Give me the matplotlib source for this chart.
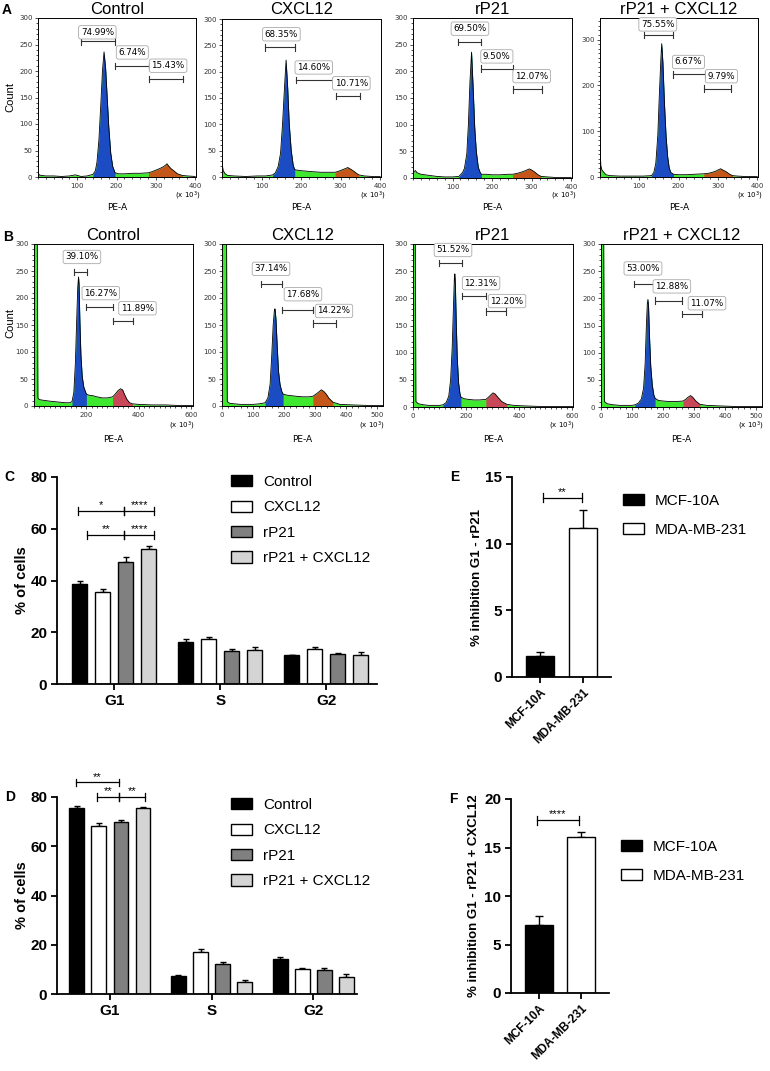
import matplotlib
matplotlib.use("Agg")
import matplotlib.pyplot as plt
import numpy as np
from matplotlib.patches import Patch
from matplotlib.ticker import MultipleLocator

plt.rcParams['font.family'] = ['Liberation Sans', 'DejaVu Sans']

W, H = 770, 1071

# ---------------- flow histograms (PE-A, x 10^3) ----------------
hist_titles = ["Control", "CXCL12", "rP21", "rP21 + CXCL12"]

a_x = [
    [0, 3, 8, 20, 40, 60, 80, 95, 100, 110, 125, 140, 146, 150, 155, 160, 164, 168, 172, 176, 180, 185, 190, 196,
     205, 220, 240, 260, 281, 290, 300, 310, 318, 324, 328, 332, 338, 345, 355, 367, 380, 400],
    [0, 3, 8, 14, 30, 60, 90, 110, 120, 128, 135, 142, 148, 153, 158, 162, 166, 170, 175, 180, 184, 190, 200, 215,
     230, 250, 270, 286, 295, 305, 312, 318, 325, 333, 340, 346, 360, 380, 400],
    [0, 3, 6, 10, 20, 40, 60, 80, 100, 116, 125, 130, 136, 140, 144, 148, 152, 156, 160, 165, 170, 173, 185, 200,
     220, 240, 252, 265, 278, 288, 294, 300, 308, 316, 324, 340, 360, 400],
    [0, 2, 5, 10, 15, 25, 50, 80, 110, 131, 137, 142, 147, 151, 155, 157, 160, 164, 168, 172, 176, 180, 187, 200,
     220, 240, 264, 275, 285, 295, 302, 307, 313, 320, 330, 337, 350, 370, 400],
]
a_y = [
    [9, 4, 3, 2, 2, 1, 2, 4, 3, 1, 2, 5, 12, 28, 70, 140, 200, 236, 205, 150, 95, 45, 20, 8,
     6, 6, 7, 7, 8, 10, 13, 16, 19, 22, 25, 21, 16, 12, 6, 3, 2, 1],
    [27, 12, 6, 3, 2, 1, 2, 2, 3, 4, 8, 20, 45, 100, 170, 222, 170, 100, 50, 22, 14, 13, 12, 11,
     10, 9, 9, 9, 11, 14, 16, 18, 15, 11, 7, 4, 2, 1, 1],
    [6, 12, 14, 10, 7, 5, 3, 2, 2, 3, 10, 18, 45, 100, 180, 236, 170, 95, 50, 20, 10, 7, 7, 6,
     6, 7, 7, 9, 12, 15, 17, 15, 11, 6, 3, 2, 1, 1],
    [70, 25, 15, 10, 5, 3, 2, 2, 2, 3, 10, 30, 90, 180, 260, 291, 250, 160, 90, 45, 20, 10, 6, 5,
     5, 6, 7, 8, 10, 13, 16, 18, 15, 12, 6, 3, 2, 1, 1],
]
a_g1 = [(140, 196), (128, 184), (116, 173), (131, 187)]
a_g2 = [(281, 367), (286, 346), (252, 324), (264, 337)]
a_pct = [["74.99%", "6.74%", "15.43%"], ["68.35%", "14.60%", "10.71%"],
         ["69.50%", "9.50%", "12.07%"], ["75.55%", "6.67%", "9.79%"]]
a_gate_x = [[(110, 195), (196, 282), (282, 368)], [(109, 185), (186, 280), (287, 349)],
            [(114, 173), (173, 254), (254, 325)], [(111, 187), (187, 266), (264, 334)]]
a_gate_y = [[256, 210, 185], [246, 184, 154], [255, 205, 166], [310, 224, 193]]
a_lab = [[(151, 273), (240, 235), (331, 210)], [(150, 271), (232, 208), (327, 178)],
         [(144, 280), (212, 228), (300, 191)], [(147, 333), (225, 251), (309, 220)]]

b_x = [
    [0, 12, 15, 20, 30, 45, 60, 80, 100, 120, 135, 145, 152, 158, 163, 167, 170, 172, 175, 179, 184, 190, 200,
     210, 225, 240, 260, 280, 300, 310, 320, 330, 338, 345, 355, 365, 376, 400, 450, 500, 550, 607],
    [0, 14, 17, 25, 40, 60, 80, 100, 120, 139, 148, 155, 160, 165, 169, 171, 174, 178, 182, 187, 192, 197,
     210, 225, 240, 260, 280, 293, 303, 312, 320, 328, 336, 345, 358, 380, 420, 470, 519],
    [0, 8, 11, 20, 40, 60, 80, 100, 113, 125, 135, 142, 148, 153, 156, 158, 160, 163, 167, 172, 177, 181,
     195, 210, 230, 250, 275, 285, 295, 302, 310, 320, 335, 354, 380, 420, 480, 540, 604],
    [0, 8, 11, 20, 40, 60, 80, 100, 109, 120, 130, 137, 142, 146, 149, 151, 153, 156, 160, 165, 170, 174,
     185, 200, 220, 240, 264, 272, 280, 288, 295, 305, 318, 340, 380, 430, 480, 518],
]
b_y = [
    [400, 400, 15, 12, 11, 10, 9, 8, 7, 6, 6, 8, 25, 80, 160, 220, 239, 225, 160, 95, 55, 35, 22,
     20, 19, 17, 15, 15, 17, 22, 28, 32, 30, 22, 12, 6, 4, 3, 2, 2, 1, 1],
    [400, 400, 8, 5, 4, 3, 3, 3, 4, 6, 15, 40, 90, 150, 178, 180, 160, 110, 65, 40, 28, 22,
     20, 19, 18, 17, 17, 18, 22, 26, 30, 27, 22, 14, 7, 3, 2, 1, 1],
    [400, 400, 10, 6, 4, 3, 3, 3, 4, 8, 20, 50, 110, 190, 235, 245, 225, 160, 90, 45, 25, 18,
     15, 14, 13, 13, 14, 18, 23, 26, 24, 18, 10, 5, 3, 2, 1, 1, 1],
    [400, 400, 10, 6, 4, 3, 3, 3, 4, 7, 15, 35, 80, 150, 190, 198, 185, 130, 75, 40, 22, 16,
     12, 11, 10, 10, 11, 14, 18, 21, 18, 11, 5, 3, 2, 1, 1, 1],
]
b_g1 = [(145, 200), (139, 197), (113, 181), (109, 174)]
b_g2 = [(300, 376), (293, 358), (275, 354), (264, 318)]
b_pct = [["39.10%", "16.27%", "11.89%"], ["37.14%", "17.68%", "14.22%"],
         ["51.52%", "12.31%", "12.20%"], ["53.00%", "12.88%", "11.07%"]]
b_gate_x = [[(153, 202), (199, 300), (300, 379)], [(126, 194), (194, 294), (294, 368)],
            [(98, 185), (185, 275), (275, 351)], [(106, 174), (174, 261), (261, 325)]]
b_gate_y = [[248, 183, 157], [226, 178, 153], [265, 204, 176], [226, 196, 171]]
b_lab = [[(183, 276), (255, 209), (395, 181)], [(158, 254), (261, 207), (361, 176)],
         [(151, 289), (257, 228), (355, 195)], [(135, 255), (228, 222), (341, 191)]]

# ---------------- bar charts ----------------
phases = ["G1", "S", "G2"]
treatments = ["Control", "CXCL12", "rP21", "rP21 + CXCL12"]
c_mean = [[38.8, 16.3, 11.1], [35.6, 17.2, 13.4], [47.0, 12.7, 11.6], [52.2, 13.1, 11.2]]
c_err = [[1.0, 0.9, 0.3], [1.2, 1.1, 1.0], [2.1, 0.9, 0.3], [1.0, 1.2, 1.3]]
c_sig = [(-0.34, 0.094, 66.8, "*"), (0.094, 0.377, 66.8, "****"),
         (-0.255, 0.094, 57.5, "**"), (0.094, 0.377, 57.5, "****")]
d_mean = [[75.5, 7.2, 14.3], [68.2, 17.1, 10.1], [69.7, 12.3, 9.6], [75.4, 4.7, 6.9]]
d_err = [[0.7, 0.4, 0.6], [1.1, 1.2, 0.3], [1.1, 0.7, 1.1], [0.4, 0.8, 1.2]]
d_sig = [(-0.335, 0.089, 85.9, "**"), (-0.128, 0.089, 80.0, "**"), (0.089, 0.345, 80.0, "**")]

lines = ["MCF-10A", "MDA-MB-231"]
e_mean = [1.6, 11.2]
e_err = [0.25, 1.3]
e_sig = (0.07, 0.98, 13.45, "**")
f_mean = [7.06, 16.08]
f_err = [0.9, 0.52]
f_sig = (-0.05, 0.95, 17.8, "****")

GREEN = "#3ee82e"
BLUE = "#1b4cc4"
ORANGE = "#c4561a"
RED = "#c8485a"
treat_colors = ["black", "white", "#808080", "#d4d4d4"]
line_colors = ["black", "white"]


def px_axes(fig, l, t, r, b):
    return fig.add_axes([l / W, 1 - b / H, (r - l) / W, (b - t) / H])


def ftext(fig, x, y, s, **kw):
    fig.text(x / W, 1 - y / H, s, **kw)


def draw_hist(ax, x, y, g1, g2, c2, xmax, ymax, xticks, yticks, pcts, gx, gy, lab):
    x = np.array(x, dtype=float)
    y = np.array(y, dtype=float)
    ax.fill_between(x, y, color=GREEN, lw=0)
    m1 = (x >= g1[0]) & (x <= g1[1])
    ax.fill_between(x[m1], y[m1], color=BLUE, lw=0)
    m2 = (x >= g2[0]) & (x <= g2[1])
    ax.fill_between(x[m2], y[m2], color=c2, lw=0)
    ax.plot(x, y, color="black", lw=0.6)
    ax.set_xlim(0, xmax)
    ax.set_ylim(0, ymax)
    ax.set_xticks(xticks)
    ax.set_yticks(yticks)
    ax.xaxis.set_minor_locator(MultipleLocator(20))
    ax.yaxis.set_minor_locator(MultipleLocator(10))
    ax.tick_params(which="both", direction="out", labelsize=5, colors="#333333", width=0.6, pad=1.5)
    ax.tick_params(which="major", length=2.5)
    ax.tick_params(which="minor", length=1.3)
    for lb in ax.get_xticklabels() + ax.get_yticklabels():
        lb.set_family("DejaVu Sans")
    for sp in ax.spines.values():
        sp.set_linewidth(0.7)
    cap = ymax * 0.02
    for (x0, x1), yy, (lx, ly), s in zip(gx, gy, lab, pcts):
        ax.plot([x0, x1], [yy, yy], color="#333333", lw=0.8)
        ax.plot([x0, x0], [yy - cap, yy + cap], color="#333333", lw=0.8)
        ax.plot([x1, x1], [yy - cap, yy + cap], color="#333333", lw=0.8)
        ax.text(lx, ly, s, ha="center", va="center", fontsize=6.3, family="DejaVu Sans",
                bbox=dict(boxstyle="round,pad=0.25", fc="white", ec="#aaaaaa", lw=0.6))


def sig_bracket(ax, x0, x1, y, s, cap, fs=8):
    ax.plot([x0, x1], [y, y], color="black", lw=0.9, clip_on=False)
    for xx in (x0, x1):
        ax.plot([xx, xx], [y - cap, y + cap], color="black", lw=0.9, clip_on=False)
    ax.text((x0 + x1) / 2, y + cap * 0.2, s, ha="center", va="bottom", fontsize=fs, clip_on=False)


def style_bar_axes(ax):
    for sp in ("top", "right"):
        ax.spines[sp].set_visible(False)
    for sp in ("left", "bottom"):
        ax.spines[sp].set_linewidth(1.3)
    ax.tick_params(direction="out", length=4, width=1.3, labelsize=11, pad=3)
    for lb in ax.get_yticklabels() + ax.get_xticklabels():
        lb.set_fontweight("bold")


def grouped_bars(fig, ax, means, errs, sigs, ylabel, xl, xr, label_x, leg_xy, cap):
    width = 0.145
    step = 0.217
    xs = np.arange(len(phases))
    for i, (m, e, c) in enumerate(zip(means, errs, treat_colors)):
        pos = xs + (i - 1.5) * step
        ax.bar(pos, m, width, color=c, edgecolor="black", lw=1.0, zorder=2)
        ax.errorbar(pos, m, yerr=[np.zeros(len(e)), e], fmt="none", ecolor="black",
                    elinewidth=1.0, capsize=2.5, capthick=1.0, zorder=1)
    ax.set_xlim(xl, xr)
    ax.set_ylim(0, 80)
    ax.set_yticks([0, 20, 40, 60, 80])
    ax.set_xticks(xs)
    ax.set_xticklabels(phases)
    style_bar_axes(ax)
    ax.set_ylabel(ylabel, fontsize=10.5, fontweight="bold")
    ax.yaxis.set_label_coords(label_x, 0.5)
    for x0, x1, y, s in sigs:
        sig_bracket(ax, x0, x1, y, s, cap)
    handles = [Patch(fc=c, ec="black", lw=1.0) for c in treat_colors]
    ax.legend(handles, treatments, loc="upper left", bbox_to_anchor=(leg_xy[0] / W, 1 - leg_xy[1] / H),
              bbox_transform=fig.transFigure, frameon=False, fontsize=11, handlelength=1.4,
              handleheight=0.75, handletextpad=0.7, labelspacing=0.75, borderpad=0, borderaxespad=0)


def pair_bars(fig, ax, means, errs, sig, ylim, yticks, ylabel, label_x, leg_xy, cap):
    xs = np.arange(len(lines))
    ax.bar(xs, means, 0.65, color=line_colors, edgecolor="black", lw=1.0, zorder=2)
    ax.errorbar(xs, means, yerr=[np.zeros(len(errs)), errs], fmt="none", ecolor="black",
                elinewidth=1.0, capsize=3, capthick=1.0, zorder=1)
    ax.set_xlim(-0.66, 1.66)
    ax.set_ylim(*ylim)
    ax.set_yticks(yticks)
    ax.set_xticks(xs)
    ax.set_xticklabels(lines, rotation=45, ha="right", rotation_mode="anchor")
    style_bar_axes(ax)
    for lb in ax.get_xticklabels():
        lb.set_fontsize(8.5)
    ax.set_ylabel(ylabel, fontsize=9.5, fontweight="bold")
    ax.yaxis.set_label_coords(label_x, 0.5)
    sig_bracket(ax, sig[0], sig[1], sig[2], sig[3], cap)
    handles = [Patch(fc=c, ec="black", lw=1.0) for c in line_colors]
    ax.legend(handles, lines, loc="upper left", bbox_to_anchor=(leg_xy[0] / W, 1 - leg_xy[1] / H),
              bbox_transform=fig.transFigure, frameon=False, fontsize=11, handlelength=1.4,
              handleheight=0.75, handletextpad=0.7, labelspacing=0.95, borderpad=0, borderaxespad=0)


def main():
    fig = plt.figure(figsize=(W / 100, H / 100), dpi=100)

    # row A
    a_rects = [(38, 18, 196, 177), (222, 19, 381, 177), (413, 18, 572, 178), (600, 18, 758, 177)]
    a_ymax = [300, 300, 300, 347]
    a_yt = [range(0, 301, 50)] * 3 + [range(0, 301, 100)]
    for i in range(4):
        ax = px_axes(fig, *a_rects[i])
        draw_hist(ax, a_x[i], a_y[i], a_g1[i], a_g2[i], ORANGE, 402, a_ymax[i], [100, 200, 300, 400],
                  list(a_yt[i]), a_pct[i], a_gate_x[i], a_gate_y[i], a_lab[i])
        l, t, r, b = a_rects[i]
        ftext(fig, (l + r) / 2, 9, hist_titles[i], ha="center", va="center", fontsize=12)
        ftext(fig, (l + r) / 2, 207, "PE-A", ha="center", va="center", fontsize=6.5, family="DejaVu Sans")
        ftext(fig, r + 5, 196, r"(x 10$^3$)", ha="right", va="center", fontsize=5, family="DejaVu Sans")
    ftext(fig, 10, 97, "Count", rotation=90, ha="center", va="center", fontsize=8)
    ftext(fig, 7, 10, "A", ha="center", va="center", fontsize=10, fontweight="bold")

    # row B
    b_rects = [(34, 244, 193, 406), (222, 244, 383, 406), (413, 244, 573, 407), (601, 244, 762, 407)]
    b_xmax = [607, 519, 604, 518]
    b_xt = [[200, 400, 600], [0, 100, 200, 300, 400, 500], [0, 200, 400, 600], [0, 100, 200, 300, 400, 500]]
    b_c2 = [RED, ORANGE, RED, RED]
    for i in range(4):
        ax = px_axes(fig, *b_rects[i])
        draw_hist(ax, b_x[i], b_y[i], b_g1[i], b_g2[i], b_c2[i], b_xmax[i], 300, b_xt[i],
                  list(range(0, 301, 50)), b_pct[i], b_gate_x[i], b_gate_y[i], b_lab[i])
        l, t, r, b = b_rects[i]
        ftext(fig, (l + r) / 2, 235, hist_titles[i], ha="center", va="center", fontsize=12)
        ftext(fig, (l + r) / 2, 440, "PE-A", ha="center", va="center", fontsize=6.5, family="DejaVu Sans")
        ftext(fig, r + 2, 426, r"(x 10$^3$)", ha="right", va="center", fontsize=5, family="DejaVu Sans")
    ftext(fig, 10, 323, "Count", rotation=90, ha="center", va="center", fontsize=8)
    ftext(fig, 8, 237, "B", ha="center", va="center", fontsize=10, fontweight="bold")

    # C and D
    ax_c = px_axes(fig, 57, 477, 377, 684)
    grouped_bars(fig, ax_c, c_mean, c_err, c_sig, "% of cells", -0.54, 2.48, -0.088, (231, 475), 1.5)
    ftext(fig, 9, 477, "C", ha="center", va="center", fontsize=10, fontweight="bold")
    ax_d = px_axes(fig, 57, 797, 357, 994)
    grouped_bars(fig, ax_d, d_mean, d_err, d_sig, "% of cells", -0.52, 2.43, -0.093, (231, 798), 1.5)
    ftext(fig, 10, 797, "D", ha="center", va="center", fontsize=10, fontweight="bold")

    # E and F
    ax_e = px_axes(fig, 512, 477, 611, 677)
    pair_bars(fig, ax_e, e_mean, e_err, e_sig, (0, 15), [0, 5, 10, 15], "% inhibition G1 - rP21",
              -0.29, (623, 494), 0.35)
    ftext(fig, 455, 477, "E", ha="center", va="center", fontsize=10, fontweight="bold")
    ax_f = px_axes(fig, 511, 799, 609, 993)
    pair_bars(fig, ax_f, f_mean, f_err, f_sig, (0, 20), [0, 5, 10, 15, 20],
              "% inhibition G1 - rP21 + CXCL12", -0.316, (621, 840), 0.45)
    ftext(fig, 453, 799, "F", ha="center", va="center", fontsize=10, fontweight="bold")

    fig.savefig("out.png", dpi=100)


if __name__ == "__main__":
    main()
